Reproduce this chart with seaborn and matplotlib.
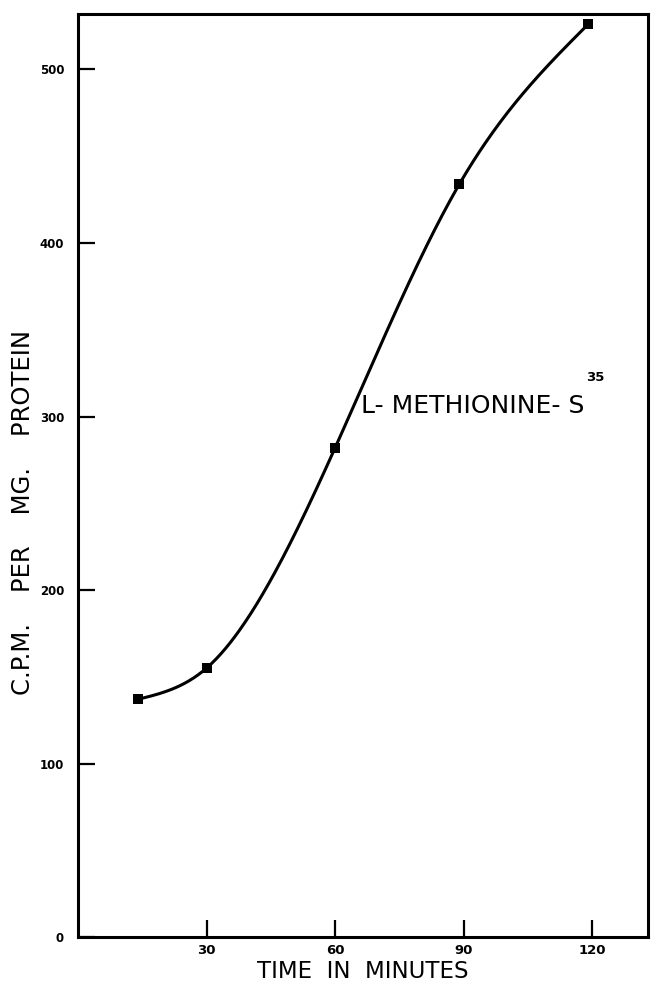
import numpy as np
import pandas as pd
import matplotlib
matplotlib.use("Agg")
import matplotlib.pyplot as plt
import seaborn as sns

# Data
time_min = [14, 30, 60, 89, 119]
cpm_per_mg = [137, 155, 282, 434, 526]
x_ticks = [30, 60, 90, 120]
y_ticks = [0, 100, 200, 300, 400, 500]
label_text = "L- METHIONINE- S"
label_sup = "35"


def natural_cubic(x, y, xs):
    x = np.asarray(x, float)
    y = np.asarray(y, float)
    n = len(x)
    h = np.diff(x)
    A = np.zeros((n, n))
    b = np.zeros(n)
    A[0, 0] = 1
    A[-1, -1] = 1
    for i in range(1, n - 1):
        A[i, i - 1] = h[i - 1]
        A[i, i] = 2 * (h[i - 1] + h[i])
        A[i, i + 1] = h[i]
        b[i] = 6 * ((y[i + 1] - y[i]) / h[i] - (y[i] - y[i - 1]) / h[i - 1])
    M = np.linalg.solve(A, b)
    out = np.empty_like(xs)
    for k, xv in enumerate(xs):
        i = min(max(np.searchsorted(x, xv) - 1, 0), n - 2)
        t1 = x[i + 1] - xv
        t0 = xv - x[i]
        out[k] = (M[i] * t1 ** 3 / (6 * h[i]) + M[i + 1] * t0 ** 3 / (6 * h[i])
                  + (y[i] / h[i] - M[i] * h[i] / 6) * t1
                  + (y[i + 1] / h[i] - M[i + 1] * h[i] / 6) * t0)
    return out


sns.set_style("ticks")
plt.rcParams['font.family'] = ['DejaVu Sans']
plt.rcParams['text.color'] = 'black'
plt.rcParams['axes.labelcolor'] = 'black'

fig = plt.figure(figsize=(6.52, 9.9), dpi=100)
ax = fig.add_axes([0.1196, 0.0535, 0.8743, 0.9324])

xs = np.linspace(time_min[0], time_min[-1], 300)
curve = pd.DataFrame({"t": xs, "v": natural_cubic(time_min, cpm_per_mg, xs)})
pts = pd.DataFrame({"t": time_min, "v": cpm_per_mg})

sns.lineplot(data=curve, x="t", y="v", ax=ax, color="black", linewidth=2.2, sort=False)
sns.scatterplot(data=pts, x="t", y="v", ax=ax, marker="s", color="black", s=42,
                edgecolor="black", linewidth=0, zorder=5)

ax.set_xlim(0, 133)
ax.set_ylim(0, 532)
ax.set_xticks(x_ticks)
ax.set_yticks(y_ticks)
ax.set_xticklabels([str(v) for v in x_ticks])
ax.set_yticklabels([str(v) for v in y_ticks])
ax.tick_params(axis="both", direction="in", length=12, width=1.6, labelsize=9.5,
               colors="black", pad=5)
ax.tick_params(axis="y", pad=10, labelsize=8.5)
for lab in ax.get_xticklabels() + ax.get_yticklabels():
    lab.set_fontweight("semibold")
for side in ["left", "right", "top", "bottom"]:
    ax.spines[side].set_visible(True)
    ax.spines[side].set_linewidth(2.2)
    ax.spines[side].set_color("black")

ax.set_xlabel("TIME  IN  MINUTES", fontsize=16.5, labelpad=2)
ax.set_ylabel("C.P.M.    PER    MG.    PROTEIN", fontsize=17.5)
ax.yaxis.set_label_coords(-0.075, 0.46)

ax.text(66.0, 306, label_text, fontsize=18, ha="left", va="center")
ax.text(118.6, 319, label_sup, fontsize=9.5, ha="left", va="bottom", fontweight="semibold")

fig.savefig("out.png", dpi=100)
